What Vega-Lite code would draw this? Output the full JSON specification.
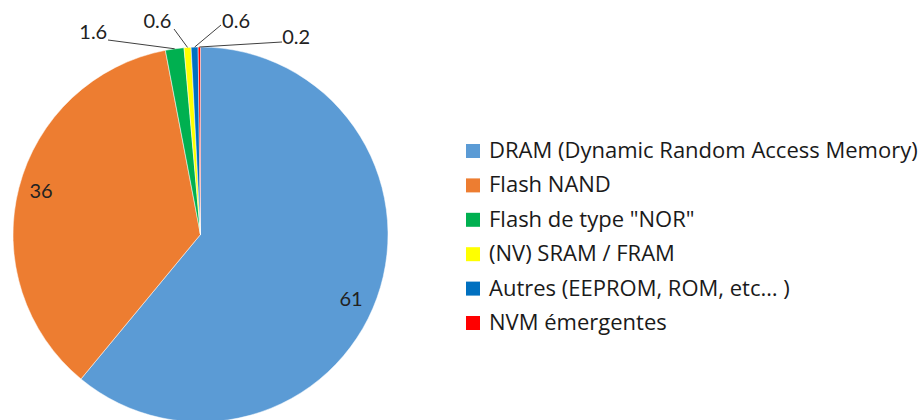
{
  "$schema": "https://vega.github.io/schema/vega-lite/v6.json",
  "width": 375,
  "height": 371,
  "autosize": "none",
  "padding": {"left": 13, "top": 49, "right": 532, "bottom": 0},
  "background": "white",
  "config": {"view": {"stroke": null}, "font": "Lato"},
  "data": {
    "values": [
      {"cat": "DRAM (Dynamic Random Access Memory)", "value": 61, "order": 1},
      {"cat": "Flash NAND", "value": 36, "order": 2},
      {"cat": "Flash de type \"NOR\"", "value": 1.6, "order": 3},
      {"cat": "(NV) SRAM / FRAM", "value": 0.6, "order": 4},
      {"cat": "Autres (EEPROM, ROM, etc… )", "value": 0.6, "order": 5},
      {"cat": "NVM émergentes", "value": 0.2, "order": 6}
    ]
  },
  "transform": [
    {"window": [{"op": "sum", "field": "value", "as": "cum"}], "sort": [{"field": "order"}], "frame": [null, 0]},
    {"calculate": "datum.cum - datum.value", "as": "start"},
    {"calculate": "datum.cum - datum.value / 2", "as": "mid"}
  ],
  "layer": [
    {
      "mark": {"type": "arc", "outerRadius": 187.5, "stroke": "white", "strokeWidth": 0.5},
      "encoding": {
        "theta": {"field": "start", "type": "quantitative", "scale": {"domain": [0, 100], "range": [0, 6.283185307179586]}},
        "theta2": {"field": "cum"},
        "color": {
          "field": "cat",
          "type": "nominal",
          "scale": {
            "domain": ["DRAM (Dynamic Random Access Memory)", "Flash NAND", "Flash de type \"NOR\"", "(NV) SRAM / FRAM", "Autres (EEPROM, ROM, etc… )", "NVM émergentes"],
            "range": ["#5B9BD5", "#ED7D31", "#00B050", "#FFFF00", "#0070C0", "#FF0000"]
          },
          "legend": {
            "orient": "none",
            "legendX": 449,
            "legendY": 91,
            "title": null,
            "symbolType": "square",
            "symbolSize": 196,
            "symbolStrokeWidth": 0,
            "labelFontSize": 22,
            "labelFont": "Open Sans",
            "labelColor": "#1a1a1a",
            "labelOffset": 5,
            "labelLimit": 0,
            "rowPadding": 12.4,
            "padding": 0
          }
        }
      }
    },
    {
      "transform": [{"filter": "datum.order == 1"}],
      "mark": {"type": "text", "radius": 160, "dy": 11, "fontSize": 20, "color": "#222222"},
      "encoding": {"theta": {"field": "mid", "type": "quantitative"}, "text": {"field": "value", "type": "quantitative"}}
    },
    {
      "transform": [{"filter": "datum.order == 2"}],
      "mark": {"type": "text", "radius": 160, "dx": -4.5, "dy": -3, "fontSize": 20, "color": "#222222"},
      "encoding": {"theta": {"field": "mid", "type": "quantitative"}, "text": {"field": "value", "type": "quantitative"}}
    },
    {
      "transform": [{"filter": "datum.order == 3"}],
      "mark": {"type": "text", "radius": 205, "dx": -79, "dy": 1.5, "fontSize": 20, "color": "#222222"},
      "encoding": {"theta": {"field": "mid", "type": "quantitative"}, "text": {"field": "value", "type": "quantitative"}}
    },
    {
      "transform": [{"filter": "datum.order == 4"}],
      "mark": {"type": "text", "radius": 205, "dx": -29, "dy": -8, "fontSize": 20, "color": "#222222"},
      "encoding": {"theta": {"field": "mid", "type": "quantitative"}, "text": {"field": "value", "type": "quantitative"}}
    },
    {
      "transform": [{"filter": "datum.order == 5"}],
      "mark": {"type": "text", "radius": 205, "dx": 42, "dy": -7.5, "fontSize": 20, "color": "#222222"},
      "encoding": {"theta": {"field": "mid", "type": "quantitative"}, "text": {"field": "value", "type": "quantitative"}}
    },
    {
      "transform": [{"filter": "datum.order == 6"}],
      "mark": {"type": "text", "radius": 205, "dx": 97, "dy": 8.5, "fontSize": 20, "color": "#222222"},
      "encoding": {"theta": {"field": "mid", "type": "quantitative"}, "text": {"field": "value", "type": "quantitative"}}
    },
    {
      "transform": [
        {"filter": "datum.order >= 3"},
        {"calculate": "187.5 + 187.5 * sin(2 * PI * datum.mid / 100)", "as": "ex"},
        {"calculate": "185.5 - 187.5 * cos(2 * PI * datum.mid / 100)", "as": "ey"},
        {"calculate": "datum.order == 3 ? 95 : datum.order == 4 ? 161 : datum.order == 5 ? 208 : 269", "as": "lx"},
        {"calculate": "datum.order == 3 ? -9 : datum.order == 4 ? -20 : datum.order == 5 ? -24 : -7", "as": "ly"}
      ],
      "mark": {"type": "rule", "color": "#404040", "strokeWidth": 1},
      "encoding": {
        "x": {"field": "ex", "type": "quantitative", "scale": null},
        "y": {"field": "ey", "type": "quantitative", "scale": null},
        "x2": {"field": "lx"},
        "y2": {"field": "ly"}
      }
    }
  ]
}
